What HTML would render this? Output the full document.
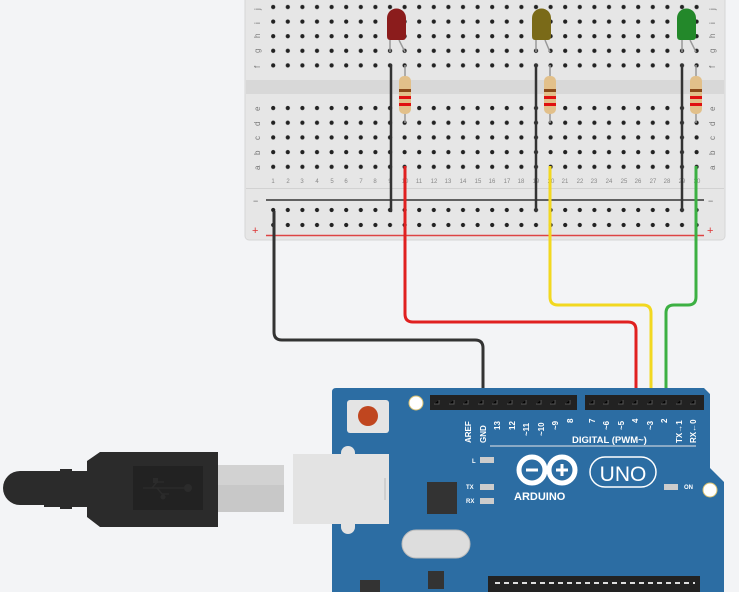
<!DOCTYPE html>
<html><head><style>
html,body{margin:0;padding:0;background:#f3f4f6;}
svg{display:block;}
text{font-family:"Liberation Sans",sans-serif;}
</style></head><body>
<svg width="739" height="592" viewBox="0 0 739 592" xmlns="http://www.w3.org/2000/svg">
<defs>
<pattern id="h" x="266.7" y="0" width="14.6" height="14.6" patternUnits="userSpaceOnUse">
<circle cx="6.5" cy="7" r="2.1" fill="#222"/></pattern>
<pattern id="h2" x="266.7" y="100.6" width="14.6" height="14.7" patternUnits="userSpaceOnUse">
<circle cx="6.5" cy="7.4" r="2.1" fill="#222"/></pattern>
<pattern id="h3" x="266.7" y="203" width="14.6" height="15" patternUnits="userSpaceOnUse">
<circle cx="6.5" cy="7" r="2.1" fill="#222"/></pattern>
</defs>
<rect width="739" height="592" fill="#f3f4f6"/>
<!-- breadboard -->
<rect x="245" y="-10" width="480" height="250" rx="4" fill="#e6e6e6" stroke="#d6d6d6"/>
<rect x="246" y="80" width="478" height="14" fill="#d8d8d8"/>
<rect x="246" y="188" width="478" height="1" fill="#d2d2d2"/>
<rect x="266" y="0" width="440" height="72" fill="url(#h)"/>
<rect x="266" y="101" width="440" height="73" fill="url(#h2)"/>
<rect x="266" y="203" width="440" height="30" fill="url(#h3)"/>
<line x1="266" y1="200" x2="704" y2="200" stroke="#333" stroke-width="1.5"/>
<line x1="266" y1="235.5" x2="704" y2="235.5" stroke="#d44" stroke-width="1.5"/>
<g font-size="9" fill="#666">
<text x="253" y="204">−</text><text x="708" y="204">−</text>
<text x="252" y="234" fill="#d33" font-size="11">+</text><text x="707" y="234" fill="#d33" font-size="11">+</text>
</g>
<g font-size="8" fill="#777">
<text x="254" y="10" transform="rotate(-90 257 7)">j</text>
<text x="254" y="24" transform="rotate(-90 257 21)">i</text>
<text x="254" y="38" transform="rotate(-90 257 35)">h</text>
<text x="254" y="53" transform="rotate(-90 257 50)">g</text>
<text x="254" y="68" transform="rotate(-90 257 65)">f</text>
<text x="254" y="111" transform="rotate(-90 257 108)">e</text>
<text x="254" y="126" transform="rotate(-90 257 123)">d</text>
<text x="254" y="140" transform="rotate(-90 257 137)">c</text>
<text x="254" y="155" transform="rotate(-90 257 152)">b</text>
<text x="254" y="170" transform="rotate(-90 257 167)">a</text>
<text x="709" y="10" transform="rotate(-90 712 7)">j</text>
<text x="709" y="24" transform="rotate(-90 712 21)">i</text>
<text x="709" y="38" transform="rotate(-90 712 35)">h</text>
<text x="709" y="53" transform="rotate(-90 712 50)">g</text>
<text x="709" y="68" transform="rotate(-90 712 65)">f</text>
<text x="709" y="111" transform="rotate(-90 712 108)">e</text>
<text x="709" y="126" transform="rotate(-90 712 123)">d</text>
<text x="709" y="140" transform="rotate(-90 712 137)">c</text>
<text x="709" y="155" transform="rotate(-90 712 152)">b</text>
<text x="709" y="170" transform="rotate(-90 712 167)">a</text>
</g>
<g font-size="6" fill="#888" text-anchor="middle">
<text x="273" y="183">1</text><text x="288" y="183">2</text><text x="302" y="183">3</text><text x="317" y="183">4</text><text x="332" y="183">5</text><text x="346" y="183">6</text><text x="361" y="183">7</text><text x="375" y="183">8</text><text x="390" y="183">9</text><text x="405" y="183">10</text><text x="419" y="183">11</text><text x="434" y="183">12</text><text x="448" y="183">13</text><text x="463" y="183">14</text><text x="478" y="183">15</text><text x="492" y="183">16</text><text x="507" y="183">17</text><text x="521" y="183">18</text><text x="536" y="183">19</text><text x="551" y="183">20</text><text x="565" y="183">21</text><text x="580" y="183">22</text><text x="594" y="183">23</text><text x="609" y="183">24</text><text x="624" y="183">25</text><text x="638" y="183">26</text><text x="653" y="183">27</text><text x="667" y="183">28</text><text x="682" y="183">29</text><text x="697" y="183">30</text>
</g>
<g stroke="#333" stroke-width="2.5" stroke-linecap="round">
<line x1="391" y1="65" x2="391" y2="211"/>
<line x1="536" y1="65" x2="536" y2="211"/>
<line x1="682" y1="65" x2="682" y2="211"/>
</g>
<g stroke="#999" stroke-width="1.5">
<line x1="390" y1="40" x2="390" y2="52"/><line x1="399" y1="40" x2="405" y2="52"/>
<line x1="536" y1="40" x2="536" y2="52"/><line x1="545" y1="40" x2="550" y2="52"/>
<line x1="682" y1="40" x2="682" y2="52"/><line x1="690" y1="40" x2="696" y2="52"/>
</g>
<path d="M387 36 V18 a9.5 9.5 0 0 1 19 0 V36 q0 4 -3 4 h-13 q-3 0 -3-4z" fill="#8b1c1c"/>
<path d="M532 36 V18 a9.5 9.5 0 0 1 19 0 V36 q0 4 -3 4 h-13 q-3 0 -3-4z" fill="#7a6a18"/>
<path d="M677 36 V18 a9.5 9.5 0 0 1 19 0 V36 q0 4 -3 4 h-13 q-3 0 -3-4z" fill="#23882a"/>
<g>
<line x1="405" y1="65" x2="405" y2="123" stroke="#999" stroke-width="1.5"/>
<rect x="399" y="76" width="12" height="38" rx="5" fill="#e2c08a"/>
<rect x="399" y="89" width="12" height="3" fill="#8a4a1a"/><rect x="399" y="96" width="12" height="3" fill="#e01010"/><rect x="399" y="103" width="12" height="3" fill="#e01010"/>
<line x1="550" y1="65" x2="550" y2="123" stroke="#999" stroke-width="1.5"/>
<rect x="544" y="76" width="12" height="38" rx="5" fill="#e2c08a"/>
<rect x="544" y="89" width="12" height="3" fill="#8a4a1a"/><rect x="544" y="96" width="12" height="3" fill="#e01010"/><rect x="544" y="103" width="12" height="3" fill="#e01010"/>
<line x1="696" y1="65" x2="696" y2="123" stroke="#999" stroke-width="1.5"/>
<rect x="690" y="76" width="12" height="38" rx="5" fill="#e2c08a"/>
<rect x="690" y="89" width="12" height="3" fill="#8a4a1a"/><rect x="690" y="96" width="12" height="3" fill="#e01010"/><rect x="690" y="103" width="12" height="3" fill="#e01010"/>
</g>
<g fill="none" stroke-width="3" stroke-linejoin="round">
<path d="M274 211 V332 q0 8 8 8 H475 q8 0 8 8 V402" stroke="#333"/>
<path d="M405 166 V314 q0 8 8 8 H628 q8 0 8 8 V402" stroke="#e02020"/>
<path d="M550 166 V297 q0 8 8 8 H643 q8 0 8 8 V402" stroke="#f2d820"/>
<path d="M696 166 V297 q0 8 -8 8 H674 q-8 0 -8 8 V402" stroke="#3cb043"/>
</g>
<!-- arduino -->
<path d="M336 388 H704 l6 6 V468 l14 14 V592 H332 V392 q0-4 4-4z" fill="#2c6da3"/>
<circle cx="416" cy="403" r="7" fill="#fff" stroke="#d8c070"/>
<circle cx="710" cy="490" r="7" fill="#fff" stroke="#d8c070"/>
<rect x="430" y="395" width="147" height="15" fill="#222"/>
<rect x="585" y="395" width="119" height="15" fill="#222"/>
<g stroke="#555" stroke-width="1">
<path d="M434 404h5v-4M449 404h5v-4M463 404h5v-4M478 404h5v-4M492 404h5v-4M507 404h5v-4M521 404h5v-4M536 404h5v-4M550 404h5v-4M565 404h5v-4"/>
<path d="M589 404h5v-4M603 404h5v-4M618 404h5v-4M632 404h5v-4M647 404h5v-4M661 404h5v-4M676 404h5v-4M690 404h5v-4"/>
</g>
<rect x="347" y="400" width="42" height="33" rx="3" fill="#e4e4e4"/>
<circle cx="368" cy="416" r="10" fill="#c0461f"/>
<g font-size="8" fill="#fff" font-weight="bold">
<text transform="translate(471 443) rotate(-90)">AREF</text>
<text transform="translate(486 443) rotate(-90)">GND</text>
<text transform="translate(500 430) rotate(-90)">13</text>
<text transform="translate(515 430) rotate(-90)">12</text>
<text transform="translate(529 436) rotate(-90)">~11</text>
<text transform="translate(544 436) rotate(-90)">~10</text>
<text transform="translate(558 430) rotate(-90)">~9</text>
<text transform="translate(573 423) rotate(-90)">8</text>
<text transform="translate(595 423) rotate(-90)">7</text>
<text transform="translate(609 430) rotate(-90)">~6</text>
<text transform="translate(624 430) rotate(-90)">~5</text>
<text transform="translate(638 423) rotate(-90)">4</text>
<text transform="translate(653 430) rotate(-90)">~3</text>
<text transform="translate(667 423) rotate(-90)">2</text>
<text transform="translate(682 443) rotate(-90)">TX→1</text>
<text transform="translate(696 443) rotate(-90)">RX←0</text>
<text x="572" y="443" font-size="9.5">DIGITAL (PWM~)</text>
<text x="472" y="463" font-size="6">L</text>
<text x="466" y="489" font-size="6">TX</text>
<text x="466" y="503" font-size="6">RX</text>
<text x="684" y="489" font-size="6">ON</text>
<text x="514" y="500" font-size="11">ARDUINO</text>
</g>
<line x1="490" y1="446" x2="696" y2="446" stroke="#e8e8e8" stroke-width="1"/>
<rect x="480" y="457" width="14" height="6" fill="#ccc"/>
<rect x="480" y="484" width="14" height="6" fill="#ccc"/>
<rect x="480" y="498" width="14" height="6" fill="#ccc"/>
<rect x="664" y="484" width="14" height="6" fill="#ccc"/>
<g fill="none" stroke="#fff" stroke-width="5">
<circle cx="532" cy="470" r="13"/><circle cx="562" cy="470" r="13"/>
</g>
<path d="M526 470h12M556 470h12M562 464v12" stroke="#fff" stroke-width="3"/>
<rect x="590" y="457" width="66" height="30" rx="15" fill="none" stroke="#fff" stroke-width="1.5"/>
<text x="623" y="481" font-size="21" fill="#fff" text-anchor="middle" font-family="Liberation Sans">UNO</text>
<rect x="427" y="482" width="30" height="32" fill="#333"/>
<rect x="402" y="530" width="68" height="28" rx="14" fill="#ddd" stroke="#bbb"/>
<rect x="428" y="571" width="16" height="18" fill="#333"/>
<rect x="360" y="580" width="20" height="12" fill="#333"/>
<rect x="488" y="576" width="212" height="16" fill="#222"/>
<path d="M495 583h200" stroke="#ddd" stroke-width="2" stroke-dasharray="5 4"/>
<!-- usb receptacle -->
<rect x="341" y="446" width="14" height="88" rx="7" fill="#e3e3e3"/>
<rect x="293" y="454" width="96" height="70" fill="#e3e3e3"/>
<line x1="385" y1="478" x2="385" y2="500" stroke="#bbb"/>
<!-- metal -->
<rect x="216" y="465" width="68" height="47" fill="#d2d2d2"/>
<rect x="216" y="485" width="68" height="27" fill="#c8c8c8"/>
<!-- plug -->
<path d="M20 482 a11 11 0 0 0 0 22 H44 V507 H60 V509 H72 V507 H87 V517 L100 527 H218 V452 H100 L87 461 V471 H72 V469 H60 V471 H44 V482z" fill="#2b2b2b"/>
<path d="M20 471 H44 V505 H20 a17 17 0 0 1 0 -34z" fill="#2b2b2b"/>
<rect x="133" y="466" width="70" height="44" fill="#222"/>
<g stroke="#2b2b2b" stroke-width="1.5" fill="none">
<path d="M143 488 H188 M152 488 l5 -6 h7 M157 488 l5 6 h7"/>
</g>
<circle cx="188" cy="488" r="4" fill="#2b2b2b"/>
<rect x="153" y="478" width="5" height="5" fill="#2b2b2b"/>
<circle cx="163" cy="497" r="2.5" fill="#2b2b2b"/>
<g fill="#f3f4f6">
<rect x="133" y="449" width="3" height="3"/><rect x="143" y="449" width="3" height="3"/><rect x="153" y="449" width="3" height="3"/><rect x="163" y="449" width="3" height="3"/><rect x="173" y="449" width="3" height="3"/>
<rect x="133" y="527" width="3" height="3"/><rect x="143" y="527" width="3" height="3"/><rect x="153" y="527" width="3" height="3"/><rect x="163" y="527" width="3" height="3"/><rect x="173" y="527" width="3" height="3"/>
</g>
</svg>
</body></html>
